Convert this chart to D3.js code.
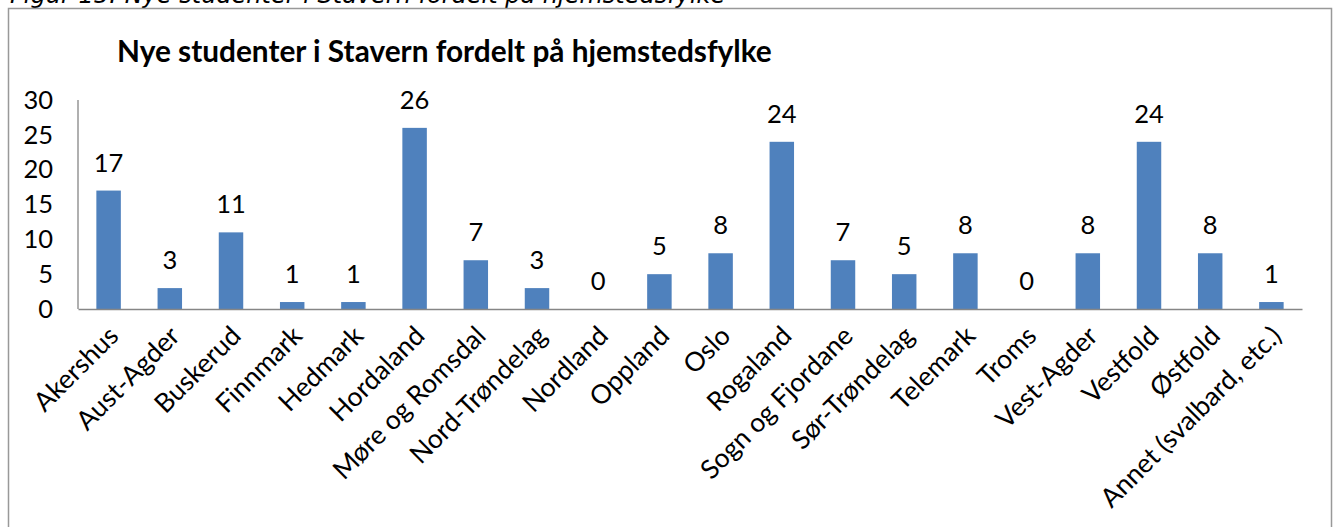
<!DOCTYPE html>
<html>
<head>
<meta charset="utf-8">
<script src="https://cdn.jsdelivr.net/npm/d3@7"></script>
<style>
  body { margin: 0; background: #fff; }
  svg { display: block; }
</style>
</head>
<body>
<div id="chart"></div>
<script>
const WIDTH = 1338, HEIGHT = 527;
const FONT = "Lato, 'Open Sans', sans-serif";

// data
const categories = ["Akershus", "Aust-Agder", "Buskerud", "Finnmark", "Hedmark", "Hordaland",
    "Møre og Romsdal", "Nord-Trøndelag", "Nordland", "Oppland", "Oslo", "Rogaland",
    "Sogn og Fjordane", "Sør-Trøndelag", "Telemark", "Troms", "Vest-Agder", "Vestfold",
    "Østfold", "Annet (svalbard, etc.)"];
const students = [17, 3, 11, 1, 1, 26, 7, 3, 0, 5, 8, 24, 7, 5, 8, 0, 8, 24, 8, 1];
const yTicks = [0, 5, 10, 15, 20, 25, 30];
const caption = "Figur 15: Nye studenter i Stavern fordelt på hjemstedsfylke";
const title = "Nye studenter i Stavern fordelt på hjemstedsfylke";

const PLOT = { left: 78, right: 1302, top: 100, bottom: 309 };

const svg = d3.select("#chart")
    .append("svg")
    .attr("width", WIDTH)
    .attr("height", HEIGHT)
    .style("font-family", FONT)

// caption above the frame, cut off at the top edge like in the scan
svg.append("text")
    .attr("x", 10)
    .attr("y", 3)
    .style("font-family", "'DejaVu Sans', sans-serif")
    .style("font-style", "italic")
    .style("font-size", "24px")
    .text(caption)

// chart frame
svg.append("rect")
    .attr("x", 8.5)
    .attr("y", 8.5)
    .attr("width", 1323)
    .attr("height", 560)
    .attr("fill", "#fff")
    .attr("stroke", "#999")
    .attr("stroke-width", 1.5)

svg.append("text")
    .attr("x", 117)
    .attr("y", 62)
    .style("font-weight", "bold")
    .style("font-size", "29.8px")
    .text(title)

const x = d3.scaleBand()
    .domain(categories)
    .range([PLOT.left, PLOT.right])
    .paddingInner(0.6)
    .paddingOuter(0.3);
const y = d3.scaleLinear()
    .domain([0, 30])
    .range([PLOT.bottom, PLOT.top]);

svg.selectAll("rect.bar")
    .data(students)
    .enter().append("rect")
    .attr("class", "bar")
    .attr("x", (d, i) => x(categories[i]))
    .attr("y", d => y(d))
    .attr("width", x.bandwidth())
    .attr("height", d => y(0) - y(d))
    .attr("fill", "#4F81BD")

svg.selectAll("text.val")
    .data(students)
    .enter().append("text")
    .attr("class", "val")
    .attr("x", (d, i) => x(categories[i]) + x.bandwidth() / 2)
    .attr("y", d => y(d) - 19)
    .attr("text-anchor", "middle")
    .style("font-size", "25.5px")
    .text(d => d)

const yAxis = svg.append("g")
    .attr("transform", `translate(${PLOT.left},0)`)
    .call(d3.axisLeft(y).tickValues(yTicks).tickSize(0).tickPadding(25))
const xAxis = svg.append("g")
    .attr("transform", `translate(0,${PLOT.bottom})`)
    .call(d3.axisBottom(x).tickSize(0).tickSizeOuter(0))

for (const g of [yAxis, xAxis]) {
    g.select(".domain").attr("stroke", "#868686").attr("stroke-width", 1.3)
    g.selectAll("text")
        .style("font-family", FONT)
        .style("font-size", "25.5px")
        .attr("fill", "#000")
}
yAxis.select(".domain").attr("d", `M0,${PLOT.top}V${PLOT.bottom}`)

xAxis.selectAll(".tick text")
    .attr("x", 0)
    .attr("y", 0)
    .attr("dy", "0.35em")
    .attr("text-anchor", "end")
    .style("font-size", "26.5px")
    .attr("transform", "translate(5,22) rotate(-45)")
</script>
</body>
</html>
